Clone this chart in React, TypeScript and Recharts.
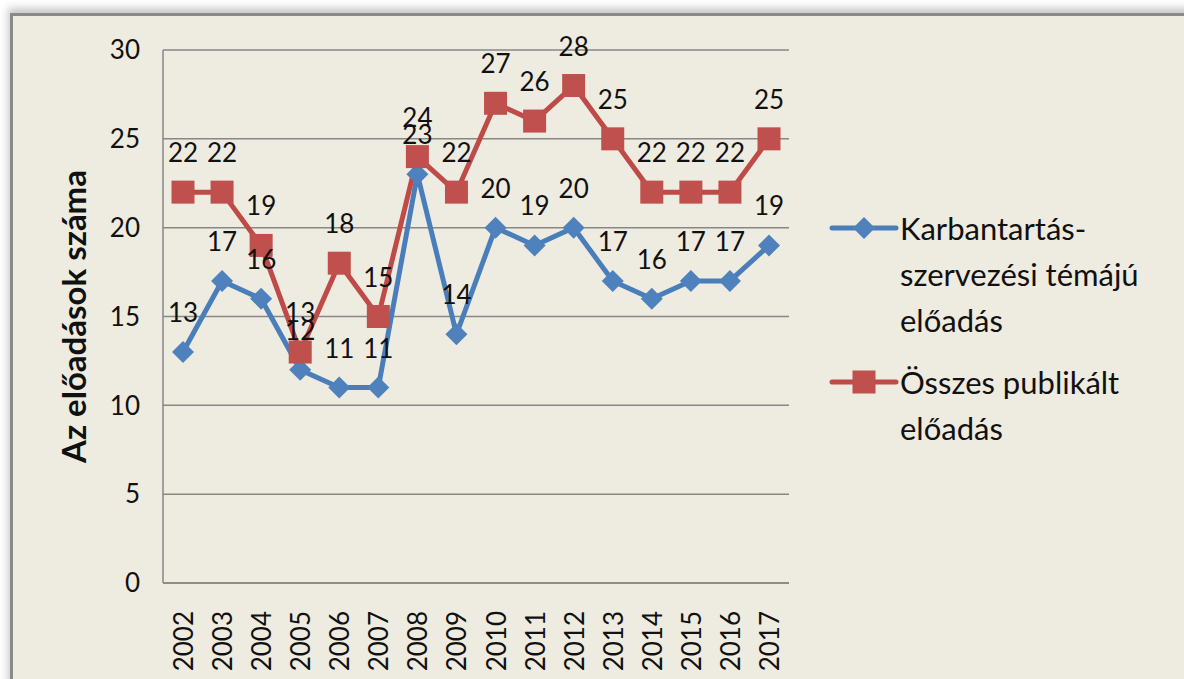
import React from "react"
import { LineChart, Line, XAxis, YAxis, CartesianGrid, Legend, LabelList } from "recharts"

const years = ["2002", "2003", "2004", "2005", "2006", "2007", "2008", "2009", "2010", "2011", "2012", "2013", "2014", "2015", "2016", "2017"]
const karbantartas = [13, 17, 16, 12, 11, 11, 23, 14, 20, 19, 20, 17, 16, 17, 17, 19]
const osszes = [22, 22, 19, 13, 18, 15, 24, 22, 27, 26, 28, 25, 22, 22, 22, 25]
const yTicks = [0, 5, 10, 15, 20, 25, 30]

const seriesNames = ["Karbantartás-szervezési témájú előadás", "Összes publikált előadás"]
const legendLines = [["Karbantartás-", "szervezési témájú", "előadás"], ["Összes publikált", "előadás"]]

const data = years.map((y, i) => ({ year: y, k: karbantartas[i], o: osszes[i] }))

const BLUE = "#4A7EBB"
const BLUE_M = "#4F81BD"
const RED = "#BE4B48"
const RED_M = "#C0504D"
const FONT = "Lato, 'Open Sans', sans-serif"

const Diamond = (props: any) => {
  const { cx, cy } = props
  if (cx == null || cy == null) return null
  const r = 11
  return <path d={`M${cx},${cy - r}L${cx + r},${cy}L${cx},${cy + r}L${cx - r},${cy}Z`} fill={BLUE_M} />
}

const Square = (props: any) => {
  const { cx, cy } = props
  if (cx == null || cy == null) return null
  const s = 23
  return <rect x={cx - s / 2} y={cy - s / 2} width={s} height={s} fill={RED_M} />
}

const ValueLabel = (props: any) => {
  const { x, y, value } = props
  return (
    <text x={x} y={y - 40} textAnchor="middle" dominantBaseline="central" fontSize={26} fontFamily={FONT} fill="#111">
      {value}
    </text>
  )
}

const YearTick = (props: any) => {
  const { x, y, payload } = props
  return (
    <text x={x} y={y + 20} transform={`rotate(-90 ${x} ${y + 20})`} textAnchor="end" dominantBaseline="central" fontSize={26} fontFamily={FONT} fill="#111">
      {payload.value}
    </text>
  )
}

const LegendBox = () => {
  const rowTops = [30, 184]
  return (
    <svg width={360} height={260}>
      {legendLines.map((lines, i) => {
        const cy = rowTops[i]
        return (
          <g key={i}>
            <line x1={4} x2={68} y1={cy} y2={cy} stroke={i === 0 ? BLUE : RED} strokeWidth={5} strokeLinecap="round" />
            {i === 0 ? <Diamond cx={36} cy={cy} /> : <Square cx={36} cy={cy} />}
            {lines.map((t, j) => (
              <text key={j} x={72} y={cy + j * 46} dominantBaseline="central" fontSize={31} fontFamily={FONT} fill="#111">
                {t}
              </text>
            ))}
          </g>
        )
      })}
    </svg>
  )
}

export default function App() {
  return (
    <div style={{ position: "fixed", left: 0, top: 0, width: 1184, height: 679, overflow: "hidden", background: "#fff" }}>
      <div
        style={{
          position: "absolute",
          left: 10,
          top: 13,
          width: 1200,
          height: 700,
          background: "#EEEBE0",
          borderTop: "3px solid #8a8a8a",
          borderLeft: "3px solid #8a8a8a",
          boxShadow: "-2px -5px 8px rgba(0,0,0,0.22)",
        }}
      >
        <div style={{ position: "absolute", left: 0, top: 2 }}>
          <LineChart width={1170} height={660} data={data} margin={{ top: 32, right: 394, bottom: 0, left: 0 }}>
            <CartesianGrid vertical={false} stroke="#878787" strokeWidth={1.5} />
            <XAxis
              dataKey="year"
              height={95}
              padding={{ left: 20, right: 20 }}
              axisLine={{ stroke: "#878787", strokeWidth: 1.5 }}
              tickLine={false}
              tick={<YearTick />}
              interval={0}
            />
            <YAxis
              width={150}
              domain={[0, 30]}
              ticks={yTicks}
              axisLine={{ stroke: "#878787", strokeWidth: 1.5 }}
              tickLine={false}
              tickSize={0}
              tickMargin={23}
              tick={{ fill: "#111", fontSize: 26, fontFamily: FONT }}
              label={{
                content: (p: any) => {
                  const vb = p.viewBox || {}
                  const cx = 60
                  const cy = (vb.y ?? 32) + (vb.height ?? 533) / 2
                  return (
                    <text x={cx} y={cy} transform={`rotate(-90 ${cx} ${cy})`} textAnchor="middle" dominantBaseline="central" fontSize={33} fontWeight="bold" fontFamily={FONT} fill="#111">
                      Az előadások száma
                    </text>
                  )
                },
              }}
            />
            <Legend
              layout="vertical"
              align="center"
              verticalAlign="middle"
              wrapperStyle={{ left: 815, top: 180, width: 360 }}
              content={() => <LegendBox />}
            />
            <Line
              name={seriesNames[0]}
              dataKey="k"
              stroke={BLUE}
              strokeWidth={5}
              dot={<Diamond />}
              activeDot={false}
              isAnimationActive={false}
            >
              <LabelList dataKey="k" content={<ValueLabel />} />
            </Line>
            <Line
              name={seriesNames[1]}
              dataKey="o"
              stroke={RED}
              strokeWidth={5}
              dot={<Square />}
              activeDot={false}
              isAnimationActive={false}
            >
              <LabelList dataKey="o" content={<ValueLabel />} />
            </Line>
          </LineChart>
        </div>
      </div>
    </div>
  )
}
